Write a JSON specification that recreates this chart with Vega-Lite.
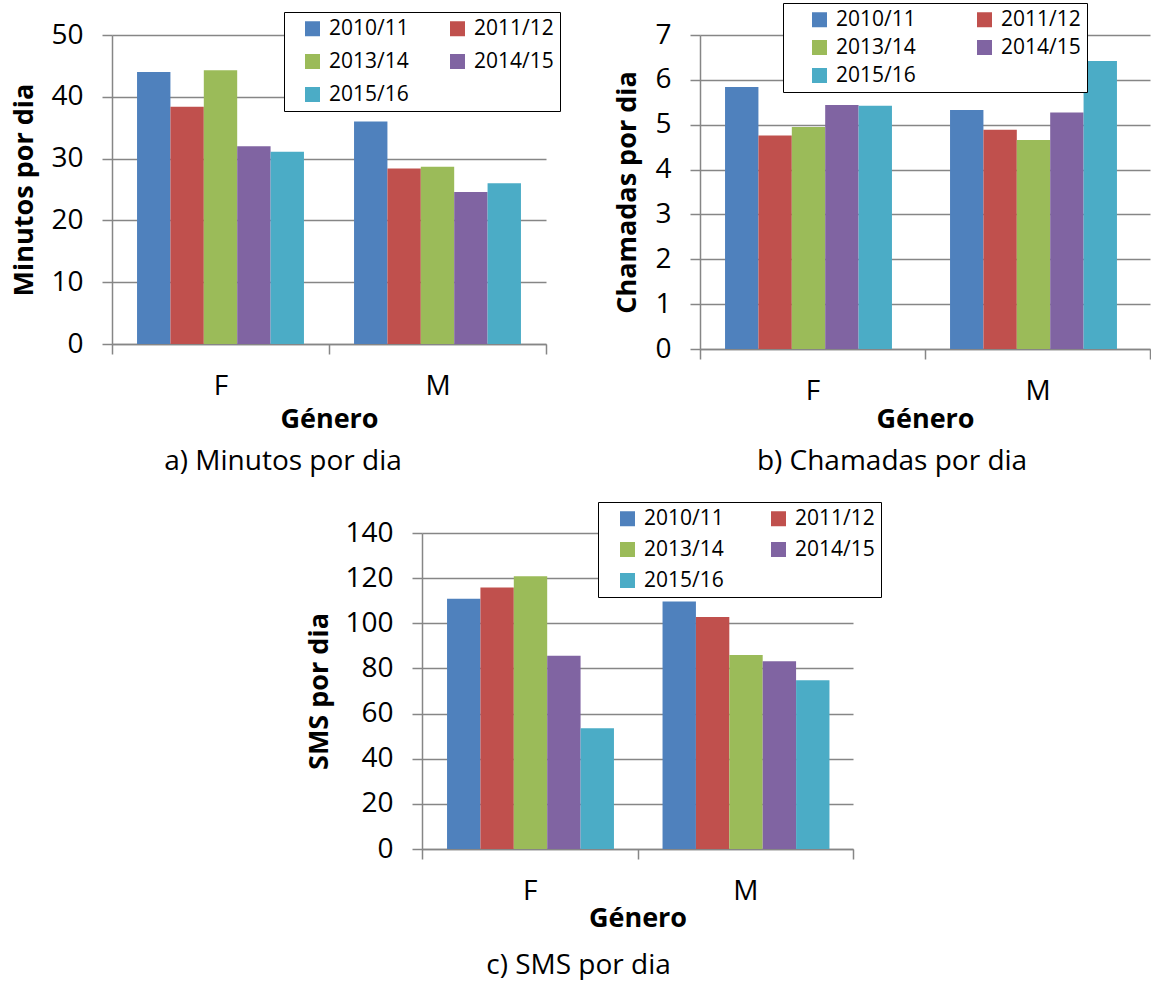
{
  "$schema": "https://vega.github.io/schema/vega-lite/v6.json",
  "background": "white",
  "padding": {"left": 10, "top": 2, "right": 0, "bottom": 0},
  "datasets": {
    "minutos": [
      {"genero": "F", "ano": "2010/11", "valor": 44.0},
      {"genero": "F", "ano": "2011/12", "valor": 38.4},
      {"genero": "F", "ano": "2013/14", "valor": 44.3},
      {"genero": "F", "ano": "2014/15", "valor": 32.0},
      {"genero": "F", "ano": "2015/16", "valor": 31.1},
      {"genero": "M", "ano": "2010/11", "valor": 36.0},
      {"genero": "M", "ano": "2011/12", "valor": 28.4},
      {"genero": "M", "ano": "2013/14", "valor": 28.7},
      {"genero": "M", "ano": "2014/15", "valor": 24.6},
      {"genero": "M", "ano": "2015/16", "valor": 26.0}
    ],
    "chamadas": [
      {"genero": "F", "ano": "2010/11", "valor": 5.84},
      {"genero": "F", "ano": "2011/12", "valor": 4.76},
      {"genero": "F", "ano": "2013/14", "valor": 4.95},
      {"genero": "F", "ano": "2014/15", "valor": 5.44},
      {"genero": "F", "ano": "2015/16", "valor": 5.42},
      {"genero": "M", "ano": "2010/11", "valor": 5.33},
      {"genero": "M", "ano": "2011/12", "valor": 4.89},
      {"genero": "M", "ano": "2013/14", "valor": 4.66},
      {"genero": "M", "ano": "2014/15", "valor": 5.27},
      {"genero": "M", "ano": "2015/16", "valor": 6.42}
    ],
    "sms": [
      {"genero": "F", "ano": "2010/11", "valor": 110.9},
      {"genero": "F", "ano": "2011/12", "valor": 115.9},
      {"genero": "F", "ano": "2013/14", "valor": 120.8},
      {"genero": "F", "ano": "2014/15", "valor": 85.6},
      {"genero": "F", "ano": "2015/16", "valor": 53.5},
      {"genero": "M", "ano": "2010/11", "valor": 109.6},
      {"genero": "M", "ano": "2011/12", "valor": 102.8},
      {"genero": "M", "ano": "2013/14", "valor": 85.9},
      {"genero": "M", "ano": "2014/15", "valor": 83.2},
      {"genero": "M", "ano": "2015/16", "valor": 74.8}
    ]
  },
  "bounds": "flush",
  "spacing": 498,
  "resolve": {"scale": {"color": "independent"}, "legend": {"color": "independent"}},
  "vconcat": [
    {
      "bounds": "flush",
      "spacing": 154,
      "resolve": {"scale": {"color": "independent"}, "legend": {"color": "independent"}},
      "hconcat": [
        {
          "width": 434,
          "height": 309,
          "data": {"name": "minutos"},
          "title": {"text": "a) Minutos por dia", "orient": "bottom", "anchor": "middle", "frame": "group", "dx": -46, "offset": 16},
          "mark": {"type": "bar"},
          "encoding": {
            "x": {"field": "genero", "type": "nominal", "sort": ["F", "M"], "scale": {"paddingInner": 0, "paddingOuter": 0}, "axis": {"title": "Género", "titlePadding": 6}},
            "xOffset": {"field": "ano", "type": "nominal", "sort": ["2010/11", "2011/12", "2013/14", "2014/15", "2015/16"], "scale": {"paddingInner": 0, "paddingOuter": 0.75}},
            "y": {"field": "valor", "type": "quantitative", "scale": {"domain": [0, 50], "nice": false}, "axis": {"title": "Minutos por dia", "values": [0, 10, 20, 30, 40, 50], "titleX": -88}},
            "color": {
              "field": "ano", "type": "nominal",
              "scale": {"domain": ["2010/11", "2011/12", "2013/14", "2014/15", "2015/16"], "range": ["#4F81BD", "#C0504D", "#9BBB59", "#8064A2", "#4BACC6"]},
              "legend": {"orient": "none", "legendX": 172, "legendY": -23, "direction": "horizontal", "columns": 2, "symbolOffset": 12, "columnPadding": 26, "rowPadding": 11, "labelExpr": "datum.label + '  '"}
            }
          }
        },
        {
          "width": 450,
          "height": 314,
          "data": {"name": "chamadas"},
          "title": {"text": "b) Chamadas por dia", "orient": "bottom", "anchor": "middle", "frame": "group", "dx": -33, "offset": 16},
          "mark": {"type": "bar"},
          "encoding": {
            "x": {"field": "genero", "type": "nominal", "sort": ["F", "M"], "scale": {"paddingInner": 0, "paddingOuter": 0}, "axis": {"title": "Género", "titlePadding": 1}},
            "xOffset": {"field": "ano", "type": "nominal", "sort": ["2010/11", "2011/12", "2013/14", "2014/15", "2015/16"], "scale": {"paddingInner": 0, "paddingOuter": 0.75}},
            "y": {"field": "valor", "type": "quantitative", "scale": {"domain": [0, 7], "nice": false}, "axis": {"title": "Chamadas por dia", "values": [0, 1, 2, 3, 4, 5, 6, 7], "titleX": -73}},
            "color": {
              "field": "ano", "type": "nominal",
              "scale": {"domain": ["2010/11", "2011/12", "2013/14", "2014/15", "2015/16"], "range": ["#4F81BD", "#C0504D", "#9BBB59", "#8064A2", "#4BACC6"]},
              "legend": {"orient": "none", "legendX": 83, "legendY": -32, "direction": "horizontal", "columns": 2, "symbolOffset": 20, "columnPadding": 38, "rowPadding": 6, "labelExpr": "datum.label + '   '"}
            }
          }
        }
      ]
    },
    {
      "bounds": "flush",
      "spacing": 309,
      "resolve": {"scale": {"color": "independent"}, "legend": {"color": "independent"}},
      "hconcat": [
        {
          "width": 1,
          "height": 316,
          "data": {"values": [{"v": 0}]},
          "mark": {"type": "rule", "opacity": 0},
          "encoding": {}
        },
        {
          "width": 431,
          "height": 316,
          "data": {"name": "sms"},
          "title": {"text": "c) SMS por dia", "orient": "bottom", "anchor": "middle", "frame": "group", "dx": -59, "offset": 21},
          "mark": {"type": "bar"},
          "encoding": {
            "x": {"field": "genero", "type": "nominal", "sort": ["F", "M"], "scale": {"paddingInner": 0, "paddingOuter": 0}, "axis": {"title": "Género", "titlePadding": 0}},
            "xOffset": {"field": "ano", "type": "nominal", "sort": ["2010/11", "2011/12", "2013/14", "2014/15", "2015/16"], "scale": {"paddingInner": 0, "paddingOuter": 0.75}},
            "y": {"field": "valor", "type": "quantitative", "scale": {"domain": [0, 140], "nice": false}, "axis": {"title": "SMS por dia", "values": [0, 20, 40, 60, 80, 100, 120, 140], "titleX": -103}},
            "color": {
              "field": "ano", "type": "nominal",
              "scale": {"domain": ["2010/11", "2011/12", "2013/14", "2014/15", "2015/16"], "range": ["#4F81BD", "#C0504D", "#9BBB59", "#8064A2", "#4BACC6"]},
              "legend": {"orient": "none", "legendX": 176, "legendY": -31, "direction": "horizontal", "columns": 2, "symbolOffset": 13, "columnPadding": 31, "rowPadding": 9, "labelExpr": "datum.label + ' '"}
            }
          }
        }
      ]
    }
  ],
  "config": {
    "font": "Open Sans",
    "view": {"stroke": null},
    "title": {"font": "Open Sans", "fontSize": 28, "fontWeight": "normal", "color": "black"},
    "axis": {
      "domainColor": "#868686", "domainWidth": 1.5,
      "tickColor": "#868686", "tickWidth": 1.5, "tickSize": 10,
      "gridColor": "#868686", "gridWidth": 1.5,
      "labelFont": "Open Sans", "labelFontSize": 28, "labelColor": "black",
      "titleFont": "Open Sans", "titleFontSize": 27, "titleFontWeight": "bold", "titleColor": "black"
    },
    "axisX": {"grid": false, "labelAngle": 0, "tickBand": "extent", "labelPadding": 18},
    "axisY": {"grid": true, "labelPadding": 19, "titleBaseline": "middle"},
    "legend": {
      "title": null,
      "symbolType": "square", "symbolSize": 225, "symbolStrokeWidth": 0,
      "labelFont": "Open Sans", "labelFontSize": 21, "labelColor": "black", "labelOffset": 6,
      "padding": 6, "strokeColor": "black", "fillColor": "white", "labelBaseline": "middle"
    }
  }
}
